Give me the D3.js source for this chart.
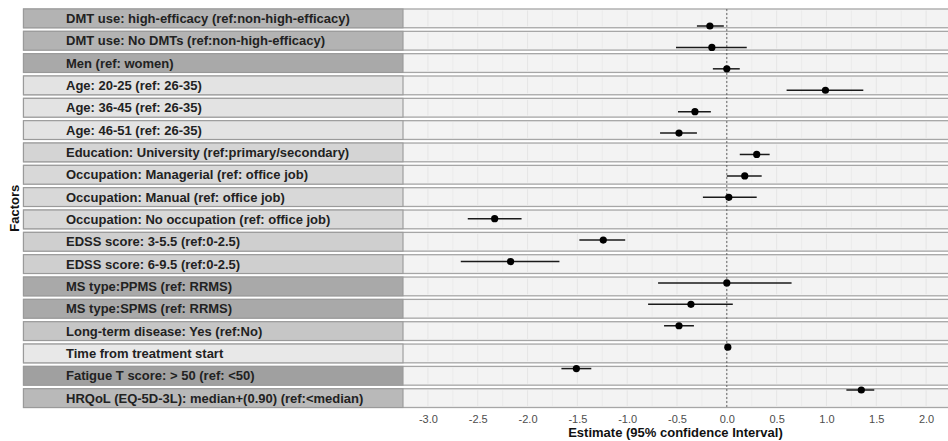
<!DOCTYPE html>
<html>
<head>
<meta charset="utf-8">
<script src="https://cdn.jsdelivr.net/npm/d3@7/dist/d3.min.js"></script>
<style>
html,body{margin:0;padding:0;background:#fff;}
svg{display:block;font-family:"Liberation Sans",Arial,sans-serif;}
</style>
</head>
<body>
<svg id="chart" width="948" height="441"></svg>
<script>
const factors = [
  "DMT use: high-efficacy (ref:non-high-efficacy)",
  "DMT use: No DMTs (ref:non-high-efficacy)",
  "Men (ref: women)",
  "Age: 20-25 (ref: 26-35)",
  "Age: 36-45 (ref: 26-35)",
  "Age: 46-51 (ref: 26-35)",
  "Education: University (ref:primary/secondary)",
  "Occupation: Managerial (ref: office job)",
  "Occupation: Manual (ref: office job)",
  "Occupation: No occupation (ref: office job)",
  "EDSS score: 3-5.5 (ref:0-2.5)",
  "EDSS score: 6-9.5 (ref:0-2.5)",
  "MS type:PPMS (ref: RRMS)",
  "MS type:SPMS (ref: RRMS)",
  "Long-term disease: Yes (ref:No)",
  "Time from treatment start",
  "Fatigue T score: > 50 (ref: <50)",
  "HRQoL (EQ-5D-3L): median+(0.90) (ref:<median)"
];
const estimate = [-0.17,-0.15,0.00,0.99,-0.32,-0.48,0.30,0.18,0.02,-2.33,-1.24,-2.17,0.00,-0.36,-0.48,0.01,-1.51,1.35];
const lower    = [-0.30,-0.51,-0.14,0.60,-0.49,-0.67,0.13,0.00,-0.24,-2.60,-1.48,-2.67,-0.69,-0.79,-0.63,-0.01,-1.66,1.20];
const upper    = [-0.03,0.20,0.13,1.37,-0.16,-0.30,0.43,0.35,0.30,-2.06,-1.02,-1.68,0.65,0.06,-0.33,0.03,-1.36,1.48];
const stripFill = ["#b3b3b3","#b3b3b3","#a9a9a9","#e3e3e3","#e3e3e3","#e3e3e3","#d4d4d4","#d8d8d8","#d8d8d8","#d8d8d8","#cfcfcf","#cfcfcf","#a9a9a9","#a9a9a9","#c6c6c6","#e8e8e8","#a0a0a0","#b9b9b9"];
const xTicks = [-3.0,-2.5,-2.0,-1.5,-1.0,-0.5,0.0,0.5,1.0,1.5,2.0];
const xTickLabels = ["-3.0","-2.5","-2.0","-1.5","-1.0","-0.5","0.0","0.5","1.0","1.5","2.0"];
const xLabel = "Estimate (95% confidence Interval)";
const yLabel = "Factors";

const data = factors.map((f,i)=>({f, est:estimate[i], lo:lower[i], hi:upper[i], fill:stripFill[i]}));

const svg = d3.select("#chart");
const stripLeft = 23.5, panelLeft = 403, panelRight = 948;
const plotTop = 9, plotBottom = 407.5;

const x = d3.scaleLinear().domain([-3.25, 2.22]).range([panelLeft, panelRight]);
const rowBand = d3.scaleBand().domain(factors).range([plotTop, plotBottom]).paddingInner(0.16).paddingOuter(0);
const yPt = d3.scalePoint().domain(factors).range([26, 390]);

// row backgrounds
const rows = svg.append("g");
rows.selectAll("rect.row").data(data).join("rect")
  .attr("class","row")
  .attr("x", stripLeft).attr("width", panelRight - stripLeft + 2)
  .attr("y", d=>rowBand(d.f)).attr("height", rowBand.bandwidth())
  .attr("fill","#f3f3f3").attr("stroke","#a6a6a6").attr("stroke-width",1.3);

// grid lines
const gridVals = d3.range(-3.25, 2.23, 0.25);
const grid = svg.append("g");
data.forEach(d=>{
  grid.selectAll(null).data(gridVals).join("line")
    .attr("x1", v=>x(v)).attr("x2", v=>x(v))
    .attr("y1", rowBand(d.f)+1.5).attr("y2", rowBand(d.f)+rowBand.bandwidth()-1.5)
    .attr("stroke", v=>Math.abs(v*2-Math.round(v*2))<1e-6 ? "#e2e2e2" : "#eaeaea")
    .attr("stroke-width",0.8);
});

// strips
svg.append("g").selectAll("rect").data(data).join("rect")
  .attr("x", stripLeft).attr("width", panelLeft - stripLeft)
  .attr("y", d=>rowBand(d.f)).attr("height", rowBand.bandwidth())
  .attr("fill", d=>d.fill).attr("stroke","#9a9a9a").attr("stroke-width",1.1);

svg.append("g").selectAll("text").data(data).join("text")
  .attr("x", 66).attr("y", d=>rowBand(d.f)+rowBand.bandwidth()/2)
  .attr("dy","0.36em")
  .attr("font-size","13px").attr("font-weight","bold").attr("fill","#222")
  .text(d=>d.f);

// zero line
svg.append("line")
  .attr("x1", x(0)).attr("x2", x(0)).attr("y1", plotTop).attr("y2", plotBottom)
  .attr("stroke","#555").attr("stroke-width",0.9).attr("stroke-dasharray","2,2");

// CI lines and points
const marks = svg.append("g");
marks.selectAll("line").data(data).join("line")
  .attr("x1", d=>x(d.lo)).attr("x2", d=>x(d.hi))
  .attr("y1", d=>yPt(d.f)).attr("y2", d=>yPt(d.f))
  .attr("stroke","#1a1a1a").attr("stroke-width",1.5);
marks.selectAll("circle").data(data).join("circle")
  .attr("cx", d=>x(d.est)).attr("cy", d=>yPt(d.f)).attr("r",3.6)
  .attr("fill","#000");

// x axis
const xAxis = d3.axisBottom(x).tickValues(xTicks)
  .tickFormat((d,i)=>xTickLabels[i]).tickSize(0).tickPadding(0);
const ax = svg.append("g").attr("transform",`translate(0,${plotBottom})`).call(xAxis);
ax.select(".domain").remove();
ax.selectAll("text").attr("font-size","11px").attr("fill","#4d4d4d").attr("dy","1.45em")
  .attr("font-family","'Liberation Sans',Arial,sans-serif");

svg.append("text")
  .attr("x", (panelLeft+panelRight)/2).attr("y", 437)
  .attr("text-anchor","middle").attr("font-size","13px").attr("font-weight","bold").attr("fill","#111")
  .text(xLabel);

svg.append("text")
  .attr("transform", `translate(19,${(plotTop+plotBottom)/2}) rotate(-90)`)
  .attr("text-anchor","middle").attr("font-size","13px").attr("font-weight","bold").attr("fill","#111")
  .text(yLabel);
</script>
</body>
</html>
